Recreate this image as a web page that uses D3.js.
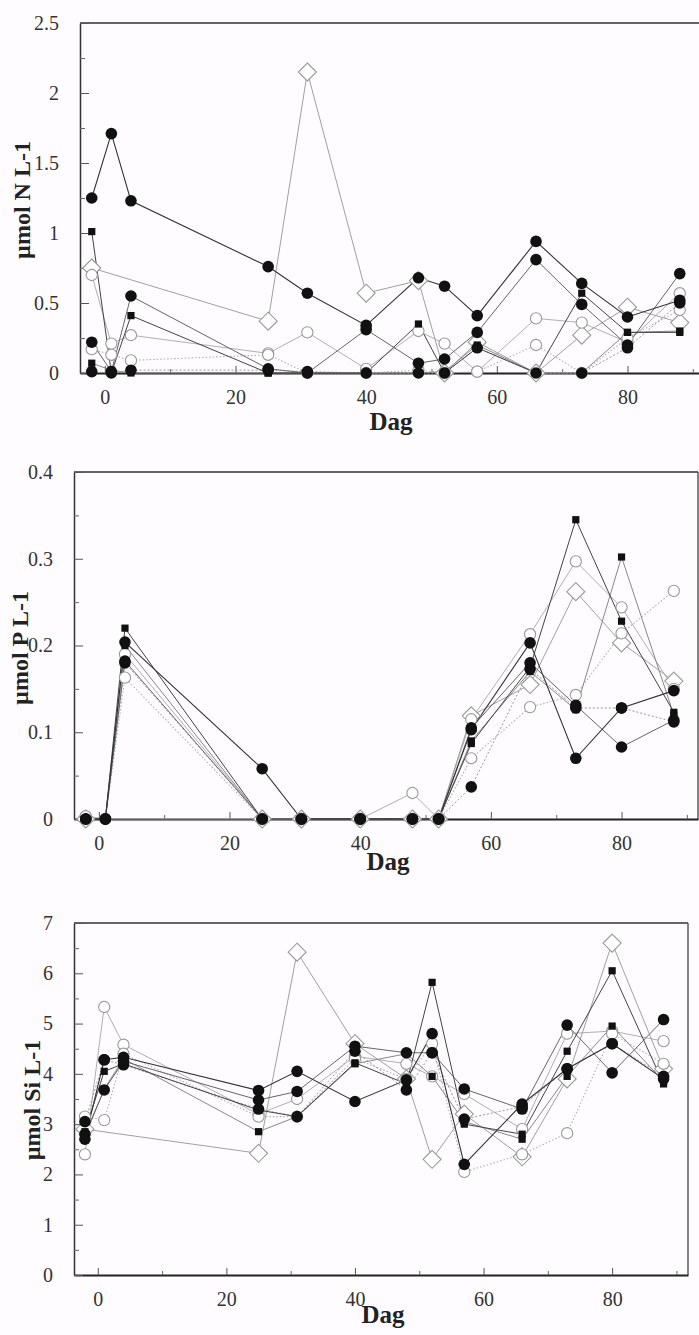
<!DOCTYPE html>
<html><head><meta charset="utf-8">
<script src="https://cdn.jsdelivr.net/npm/d3@7"></script>
<style>body{margin:0;background:#fff}svg{display:block}</style>
</head><body>
<script>
// ---------- DATA ----------
const days = [-2, 1, 4, 25, 31, 40, 48, 52, 57, 66, 73, 80, 88];
const seriesNames = ["F1","F2","F3","S1","S2","O1","O2","D"];

// Nitrogen (µmol N L-1)
const nF1 = [1.25, 1.71, 1.23, 0.76, 0.57, 0.34, 0.68, 0.62, 0.41, 0.94, 0.64, 0.40, 0.52];
const nF2 = [0.22, 0.01, 0.55, 0.03, 0.00, 0.31, 0.07, 0.10, 0.29, 0.81, 0.49, 0.20, 0.71];
const nF3 = [0.01, 0.00, 0.02, 0.02, 0.01, 0.00, 0.00, 0.00, 0.18, 0.00, 0.00, 0.18, 0.50];
const nS1 = [1.01, 0.00, 0.41, 0.00, 0.00, 0.00, 0.35, 0.00, 0.18, 0.00, 0.57, 0.29, 0.29];
const nS2 = [0.07, 0.02, 0.00, 0.00, 0.00, 0.00, 0.00, 0.01, 0.20, 0.00, 0.00, 0.29, 0.30];
const nO1 = [0.70, 0.21, 0.27, 0.14, 0.29, 0.03, 0.30, 0.21, 0.01, 0.39, 0.36, 0.22, 0.57];
const nO2 = [0.17, 0.13, 0.09, 0.13, 0.00, 0.00, 0.02, 0.00, 0.01, 0.20, 0.00, 0.25, 0.45];
const nD  = [0.75, null, null, 0.37, 2.15, 0.57, 0.66, 0.00, 0.22, 0.00, 0.27, 0.47, 0.36];

// Phosphorus (µmol P L-1)
const pF1 = [0, 0, 0.204, 0.058, 0, 0, 0, 0, 0.103, 0.203, 0.070, 0.128, 0.148];
const pF2 = [0, 0, 0.182, 0, 0, 0, 0, 0, 0.105, 0.180, 0.131, 0.083, 0.114];
const pF3 = [0, 0, 0.180, 0, 0, 0, 0, 0, 0.037, 0.173, 0.128, 0.128, 0.112];
const pS1 = [0, 0, 0.220, 0, 0, 0, 0, 0, 0.087, 0.175, 0.345, 0.228, 0.123];
const pS2 = [0, 0, 0.200, 0, 0, 0, 0, 0, 0.090, 0.170, 0.126, 0.302, 0.120];
const pO1 = [0.003, 0, 0.190, 0, 0, 0, 0.030, 0, 0.115, 0.213, 0.297, 0.244, 0.150];
const pO2 = [0.003, 0, 0.163, 0, 0, 0, 0, 0, 0.070, 0.129, 0.143, 0.214, 0.263];
const pD  = [0, null, null, 0, 0, 0, 0, 0, 0.119, 0.155, 0.262, 0.203, 0.159];

// Silicate (µmol Si L-1)
const sF1 = [2.70, 4.28, 4.33, 3.67, 4.05, 3.45, 3.88, 4.80, 2.20, 3.40, 4.10, 4.60, 3.90];
const sF2 = [2.80, 3.68, 4.25, 3.48, 3.65, 4.55, 4.42, 4.42, 3.70, 3.30, 4.97, 4.02, 5.08];
const sF3 = [3.05, 4.28, 4.18, 3.30, 3.15, 4.45, 3.68, 4.42, 3.10, 3.35, 4.10, 4.60, 3.95];
const sS1 = [2.85, 4.05, 4.20, 3.28, 3.15, 4.22, 3.80, 5.82, 3.00, 2.80, 4.45, 6.05, 3.80];
const sS2 = [2.75, 3.70, 4.30, 2.85, 3.15, 4.20, 4.40, 3.95, 3.05, 2.70, 3.95, 4.95, 3.85];
const sO1 = [2.40, 5.33, 4.58, 3.20, 3.50, 4.35, 4.20, 3.95, 3.60, 2.90, 4.80, 4.85, 4.65];
const sO2 = [3.15, 3.08, 4.40, 3.15, 3.15, 4.30, 3.90, 4.60, 2.05, 2.40, 2.82, 4.80, 4.20];
const sD  = [2.90, null, null, 2.42, 6.42, 4.60, 3.90, 2.30, 3.20, 2.35, 3.90, 6.60, 4.10];

// Axis ticks / labels
const xMajorTicks = [0, 20, 40, 60, 80];
const xMinorTicks = [10, 30, 50, 70, 90];
const nTicks = [0, 0.5, 1, 1.5, 2, 2.5];
const nMinor = [0.25, 0.75, 1.25, 1.75, 2.25];
const pTicks = [0, 0.1, 0.2, 0.3, 0.4];
const pMinor = [0.05, 0.15, 0.25, 0.35];
const sTicks = [0, 1, 2, 3, 4, 5, 6, 7];
const sMinor = [0.5, 1.5, 2.5, 3.5, 4.5, 5.5, 6.5];
const xTitle = "Dag";
const yTitles = ["µmol N L-1", "µmol P L-1", "µmol Si L-1"];

// ---------- STYLE ----------
const seriesStyle = {
  F1: {marker: "fc", stroke: "#333", dash: null, w: 1.1},
  F2: {marker: "fc", stroke: "#666", dash: null, w: 1.0},
  F3: {marker: "fc", stroke: "#999", dash: "2,2", w: 1.0},
  S1: {marker: "fs", stroke: "#444", dash: null, w: 1.0},
  S2: {marker: "fs", stroke: "#888", dash: null, w: 1.0},
  O1: {marker: "oc", stroke: "#b0b0b0", dash: null, w: 1.0},
  O2: {marker: "oc", stroke: "#b0b0b0", dash: "1.5,2", w: 1.1},
  D:  {marker: "od", stroke: "#a0a0a0", dash: null, w: 1.0}
};

const panels = [
  {vals: [nF1,nF2,nF3,nS1,nS2,nO1,nO2,nD], yDomain:[0,2.5], ticks:nTicks, minor:nMinor,
   left:80, right:700, top:23, bottom:373, xDomain:[-3.8, 91.1],
   ytitle: yTitles[0], yTitleX: 22, yTitleY: 200, xTitleY: 430, frameRight:false},
  {vals: [pF1,pF2,pF3,pS1,pS2,pO1,pO2,pD], yDomain:[0,0.4], ticks:pTicks, minor:pMinor,
   left:74, right:698, top:472, bottom:819, xDomain:[-3.8, 91.7],
   ytitle: yTitles[1], yTitleX: 20, yTitleY: 648, xTitleY: 870, frameRight:true},
  {vals: [sF1,sF2,sF3,sS1,sS2,sO1,sO2,sD], yDomain:[0,7], ticks:sTicks, minor:sMinor,
   left:74, right:688, top:923, bottom:1275, xDomain:[-3.7, 91.8],
   ytitle: yTitles[2], yTitleX: 32, yTitleY: 1100, xTitleY: 1323, frameRight:true}
];

const W = 699, H = 1335;
const svg = d3.select("body").append("svg").attr("width", W).attr("height", H)
  .style("background", "#fefcfe");
const font = "'Liberation Serif','Times New Roman',serif";

panels.forEach(p => {
  const x = d3.scaleLinear().domain(p.xDomain).range([p.left, p.right]);
  const y = d3.scaleLinear().domain(p.yDomain).range([p.bottom, p.top]);
  const g = svg.append("g");

  // frame
  g.append("line").attr("x1", p.left).attr("x2", p.right).attr("y1", p.top).attr("y2", p.top)
    .attr("stroke", "#333").attr("stroke-width", 1.4);
  if (p.frameRight) g.append("line").attr("x1", p.right).attr("x2", p.right).attr("y1", p.top).attr("y2", p.bottom)
    .attr("stroke", "#444").attr("stroke-width", 1.3);

  // x axis
  const xa = g.append("g").attr("transform", `translate(0,${p.bottom})`)
    .call(d3.axisBottom(x).tickValues(xMajorTicks).tickSizeInner(-7).tickSizeOuter(0).tickPadding(17).tickFormat(d3.format("d")));
  xa.select(".domain").attr("stroke", "#222").attr("stroke-width", 2);
  xa.selectAll(".tick line").attr("stroke", "#555");
  xa.selectAll("text").attr("font-family", font).attr("font-size", 20).attr("fill", "#333");
  const xm = g.append("g").attr("transform", `translate(0,${p.bottom})`)
    .call(d3.axisBottom(x).tickValues(xMinorTicks.filter(v => v <= p.xDomain[1])).tickSize(-4).tickFormat(""));
  xm.select(".domain").remove();
  xm.selectAll(".tick line").attr("stroke", "#666");

  // y axis
  const ya = g.append("g").attr("transform", `translate(${p.left},0)`)
    .call(d3.axisLeft(y).tickValues(p.ticks).tickSizeInner(-9).tickSizeOuter(0).tickPadding(21).tickFormat(d => d));
  ya.select(".domain").attr("stroke", "#333").attr("stroke-width", 1.5);
  ya.selectAll(".tick line").attr("stroke", "#555");
  ya.selectAll("text").attr("font-family", font).attr("font-size", 20).attr("fill", "#333");
  const ym = g.append("g").attr("transform", `translate(${p.left},0)`)
    .call(d3.axisLeft(y).tickValues(p.minor).tickSize(-5).tickFormat(""));
  ym.select(".domain").remove();
  ym.selectAll(".tick line").attr("stroke", "#666");

  // titles
  g.append("text").attr("x", (p.left + Math.min(p.right, 698)) / 2 + 2).attr("y", p.xTitleY)
    .attr("text-anchor", "middle").attr("font-family", font).attr("font-weight", "bold")
    .attr("font-size", 25).attr("fill", "#222").text(xTitle);
  g.append("text").attr("transform", `translate(${p.yTitleX},${p.yTitleY}) rotate(-90)`)
    .attr("text-anchor", "middle").attr("dy", "0.35em").attr("font-family", font).attr("font-weight", "bold")
    .attr("font-size", 24).attr("fill", "#222").text(p.ytitle);

  // series data
  const series = seriesNames.map((name, i) => ({
    name, style: seriesStyle[name],
    pts: days.map((d, j) => ({d, v: p.vals[i][j]})).filter(o => o.v !== null)
  }));

  const line = d3.line().x(o => x(o.d)).y(o => y(o.v));
  const layer = g.append("g");
  const lineOrder = ["O2","O1","D","S2","F3","F2","S1","F1"];
  lineOrder.forEach(n => {
    const s = series.find(q => q.name === n);
    layer.append("path").attr("d", line(s.pts)).attr("fill", "none")
      .attr("stroke", s.style.stroke).attr("stroke-width", s.style.w)
      .attr("stroke-dasharray", s.style.dash);
  });
  const markOrder = ["D","O1","O2","S2","S1","F3","F2","F1"];
  markOrder.forEach(n => {
    const s = series.find(q => q.name === n);
    const m = s.style.marker;
    s.pts.forEach(o => {
      const cx = x(o.d), cy = y(o.v);
      if (m === "fc") {
        layer.append("circle").attr("cx", cx).attr("cy", cy).attr("r", 5.8).attr("fill", "#111");
      } else if (m === "fs") {
        layer.append("rect").attr("x", cx - 3.6).attr("y", cy - 3.6).attr("width", 7.2).attr("height", 7.2).attr("fill", "#111");
      } else if (m === "oc") {
        layer.append("circle").attr("cx", cx).attr("cy", cy).attr("r", 5.6)
          .attr("fill", "#fff").attr("stroke", "#999").attr("stroke-width", 1.1);
      } else if (m === "od") {
        const r = 9;
        layer.append("path").attr("d", `M${cx},${cy - r}L${cx + r},${cy}L${cx},${cy + r}L${cx - r},${cy}Z`)
          .attr("fill", "#fff").attr("stroke", "#999").attr("stroke-width", 1.1);
      }
    });
  });
});
</script>
</body></html>
